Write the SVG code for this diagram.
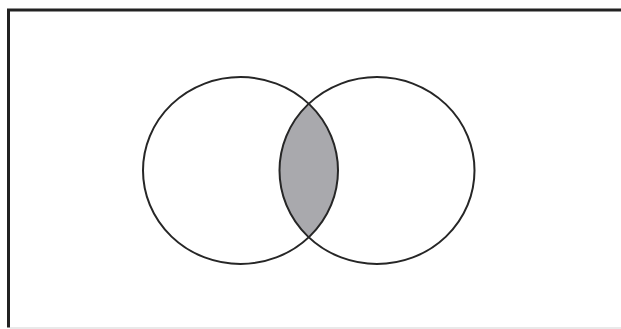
<svg xmlns="http://www.w3.org/2000/svg" width="621" height="329" viewBox="0 0 621 329">
<style>
.c{fill:none;stroke:#262626;stroke-width:2}
</style>
<defs>
<clipPath id="clipL"><ellipse cx="240.5" cy="170.5" rx="97.5" ry="93.5"/></clipPath>
</defs>
<rect x="0" y="0" width="621" height="329" fill="#ffffff"/>
<g id="frame">
<path d="M8.5 327.5 V10 H625" fill="none" stroke="#222" stroke-width="3"/>
<line x1="10" y1="328" x2="621" y2="328" stroke="#e2e2e2" stroke-width="1.5"/>
</g>
<g id="intersection">
<ellipse cx="377" cy="170.5" rx="97.5" ry="93.5" fill="#a9a9ad" clip-path="url(#clipL)"/>
</g>
<g id="setA"><ellipse class="c" cx="240.5" cy="170.5" rx="97.5" ry="93.5"/></g>
<g id="setB"><ellipse class="c" cx="377" cy="170.5" rx="97.5" ry="93.5"/></g>
</svg>
